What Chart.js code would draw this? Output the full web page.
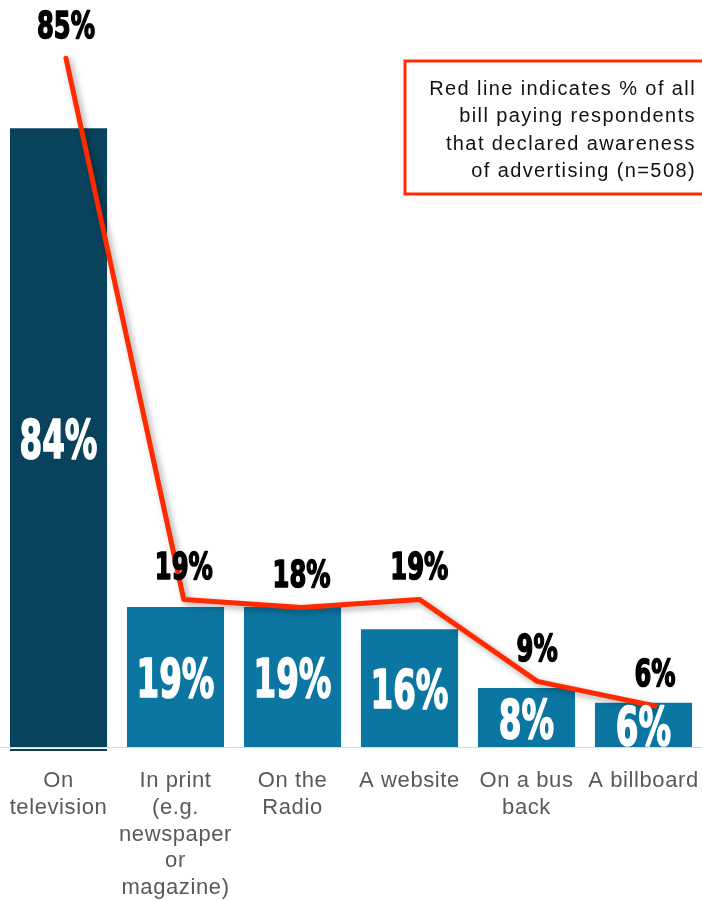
<!DOCTYPE html>
<html>
<head>
<meta charset="utf-8">
<script src="https://cdn.jsdelivr.net/npm/chart.js@4.4.1/dist/chart.umd.min.js"></script>
<style>
  html, body { margin: 0; padding: 0; background: #ffffff; }
  canvas { display: block; }
</style>
</head>
<body>
<canvas id="chart" width="702" height="901"></canvas>
<script>
// Where respondents saw the advertising
const categories = [
  ['On', 'television'],
  ['In print', '(e.g.', 'newspaper', 'or', 'magazine)'],
  ['On the', 'Radio'],
  ['A website'],
  ['On a bus', 'back'],
  ['A billboard']
];
// Bars: % of those aware of the advertising
const awarePercent = [84, 19, 19, 16, 8, 6];
// Red line: % of all bill paying respondents (n=508)
const allRespondentsPercent = [85, 19, 18, 19, 9, 6];
const barColors = ['#08425d', '#0b76a1', '#0b76a1', '#0b76a1', '#0b76a1', '#0b76a1'];
const noteLines = [
  'Red line indicates % of all',
  'bill paying respondents',
  'that declared awareness',
  'of advertising (n=508)'
];

const RED = '#ff2a00';
const CONDENSED = '"Liberation Sans Narrow", "DejaVu Sans Condensed", "Liberation Sans", sans-serif';

// Bold condensed percentage labels, squeezed horizontally to a poster-style width
function condensedLabel(ctx, text, x, cy, capH, color, targetRatio) {
  const size = capH / 0.716;
  ctx.save();
  ctx.letterSpacing = '0px';
  ctx.font = 'bold ' + size + 'px ' + CONDENSED;
  const ref = ctx.measureText('85%').width;
  const sx = Math.min(1.2, (targetRatio * capH) / ref);
  ctx.fillStyle = color;
  ctx.strokeStyle = color;
  ctx.lineWidth = 1.6;
  ctx.lineJoin = 'round';
  ctx.textAlign = 'center';
  ctx.textBaseline = 'alphabetic';
  ctx.translate(x, cy + capH / 2);
  ctx.scale(sx, 1);
  ctx.strokeText(text, 0, 0);
  ctx.fillText(text, 0, 0);
  ctx.restore();
}

// Slightly tracked-out text for the axis labels
const tracking = {
  id: 'tracking',
  beforeDraw(chart) { chart.ctx.letterSpacing = '0.6px'; }
};

// Dark underline beneath the highlighted first bar, just under the axis line
const firstBarUnderline = {
  id: 'firstBarUnderline',
  afterDraw(chart) {
    const bar = chart.getDatasetMeta(0).data[0];
    const ctx = chart.ctx;
    ctx.save();
    ctx.fillStyle = barColors[0];
    ctx.fillRect(bar.x - bar.width / 2, bar.base + 2, bar.width, 2);
    ctx.restore();
  }
};

const lineShadow = {
  id: 'lineShadow',
  beforeDatasetDraw(chart, args) {
    if (args.index !== 1) return;
    const ctx = chart.ctx;
    ctx.save();
    ctx.shadowColor = 'rgba(0,0,0,0.35)';
    ctx.shadowBlur = 6;
    ctx.shadowOffsetX = 3;
    ctx.shadowOffsetY = 3;
  },
  afterDatasetDraw(chart, args) {
    if (args.index !== 1) return;
    chart.ctx.restore();
  }
};

const valueLabels = {
  id: 'valueLabels',
  afterDatasetsDraw(chart) {
    const ctx = chart.ctx;
    const bars = chart.getDatasetMeta(0).data;
    bars.forEach((bar, i) => {
      const cy = (bar.y + bar.base) / 2;
      condensedLabel(ctx, awarePercent[i] + '%', bar.x, cy + 1, 38, '#ffffff', 2.05);
    });
    const pts = chart.getDatasetMeta(1).data;
    pts.forEach((p, i) => {
      condensedLabel(ctx, allRespondentsPercent[i] + '%', p.x, p.y - 34, 27, '#000000', 2.15);
    });
  }
};

const noteBox = {
  id: 'noteBox',
  afterDraw(chart) {
    const ctx = chart.ctx;
    ctx.save();
    ctx.strokeStyle = RED;
    ctx.lineWidth = 3;
    ctx.strokeRect(405, 61, 310, 133);
    ctx.fillStyle = '#111111';
    ctx.letterSpacing = '1.4px';
    ctx.font = '20px "Liberation Sans", Arial, sans-serif';
    ctx.textAlign = 'right';
    ctx.textBaseline = 'middle';
    noteLines.forEach((t, i) => ctx.fillText(t, 696, 89 + i * 27.6));
    ctx.restore();
  }
};

new Chart(document.getElementById('chart'), {
  type: 'bar',
  data: {
    labels: categories,
    datasets: [
      {
        type: 'bar',
        data: awarePercent,
        backgroundColor: barColors,
        xAxisID: 'x',
        yAxisID: 'y',
        grouped: false,
        barPercentage: 0.83,
        categoryPercentage: 1,
        order: 2
      },
      {
        type: 'line',
        data: allRespondentsPercent.map((v, i) => ({ x: i, y: v })),
        xAxisID: 'xLine',
        yAxisID: 'y2',
        borderColor: RED,
        borderWidth: 5,
        borderCapStyle: 'round',
        borderJoinStyle: 'round',
        pointRadius: 0,
        tension: 0,
        order: 1
      }
    ]
  },
  options: {
    responsive: false,
    animation: false,
    layout: { padding: 0 },
    plugins: { legend: { display: false }, tooltip: { enabled: false } },
    scales: {
      x: {
        type: 'category',
        offset: true,
        grid: { display: false, drawTicks: false },
        border: { display: true, color: '#d9d9d9', width: 1 },
        ticks: {
          color: '#595959',
          font: { family: '"Liberation Sans", Arial, sans-serif', size: 22, lineHeight: 1.212 },
          padding: 21,
          maxRotation: 0,
          autoSkip: false
        },
        afterFit(scale) {
          scale.paddingLeft = 0;
          scale.paddingRight = 0;
          scale.height = 154;
        }
      },
      xLine: { type: 'linear', display: false, offset: false, grid: { offset: false }, min: -0.56, max: 5.399 },
      y: { display: false, min: 0, max: 101.4 },
      y2: { display: false, min: 1, max: 92.1 }
    }
  },
  plugins: [tracking, firstBarUnderline, lineShadow, valueLabels, noteBox]
});
</script>
</body>
</html>
